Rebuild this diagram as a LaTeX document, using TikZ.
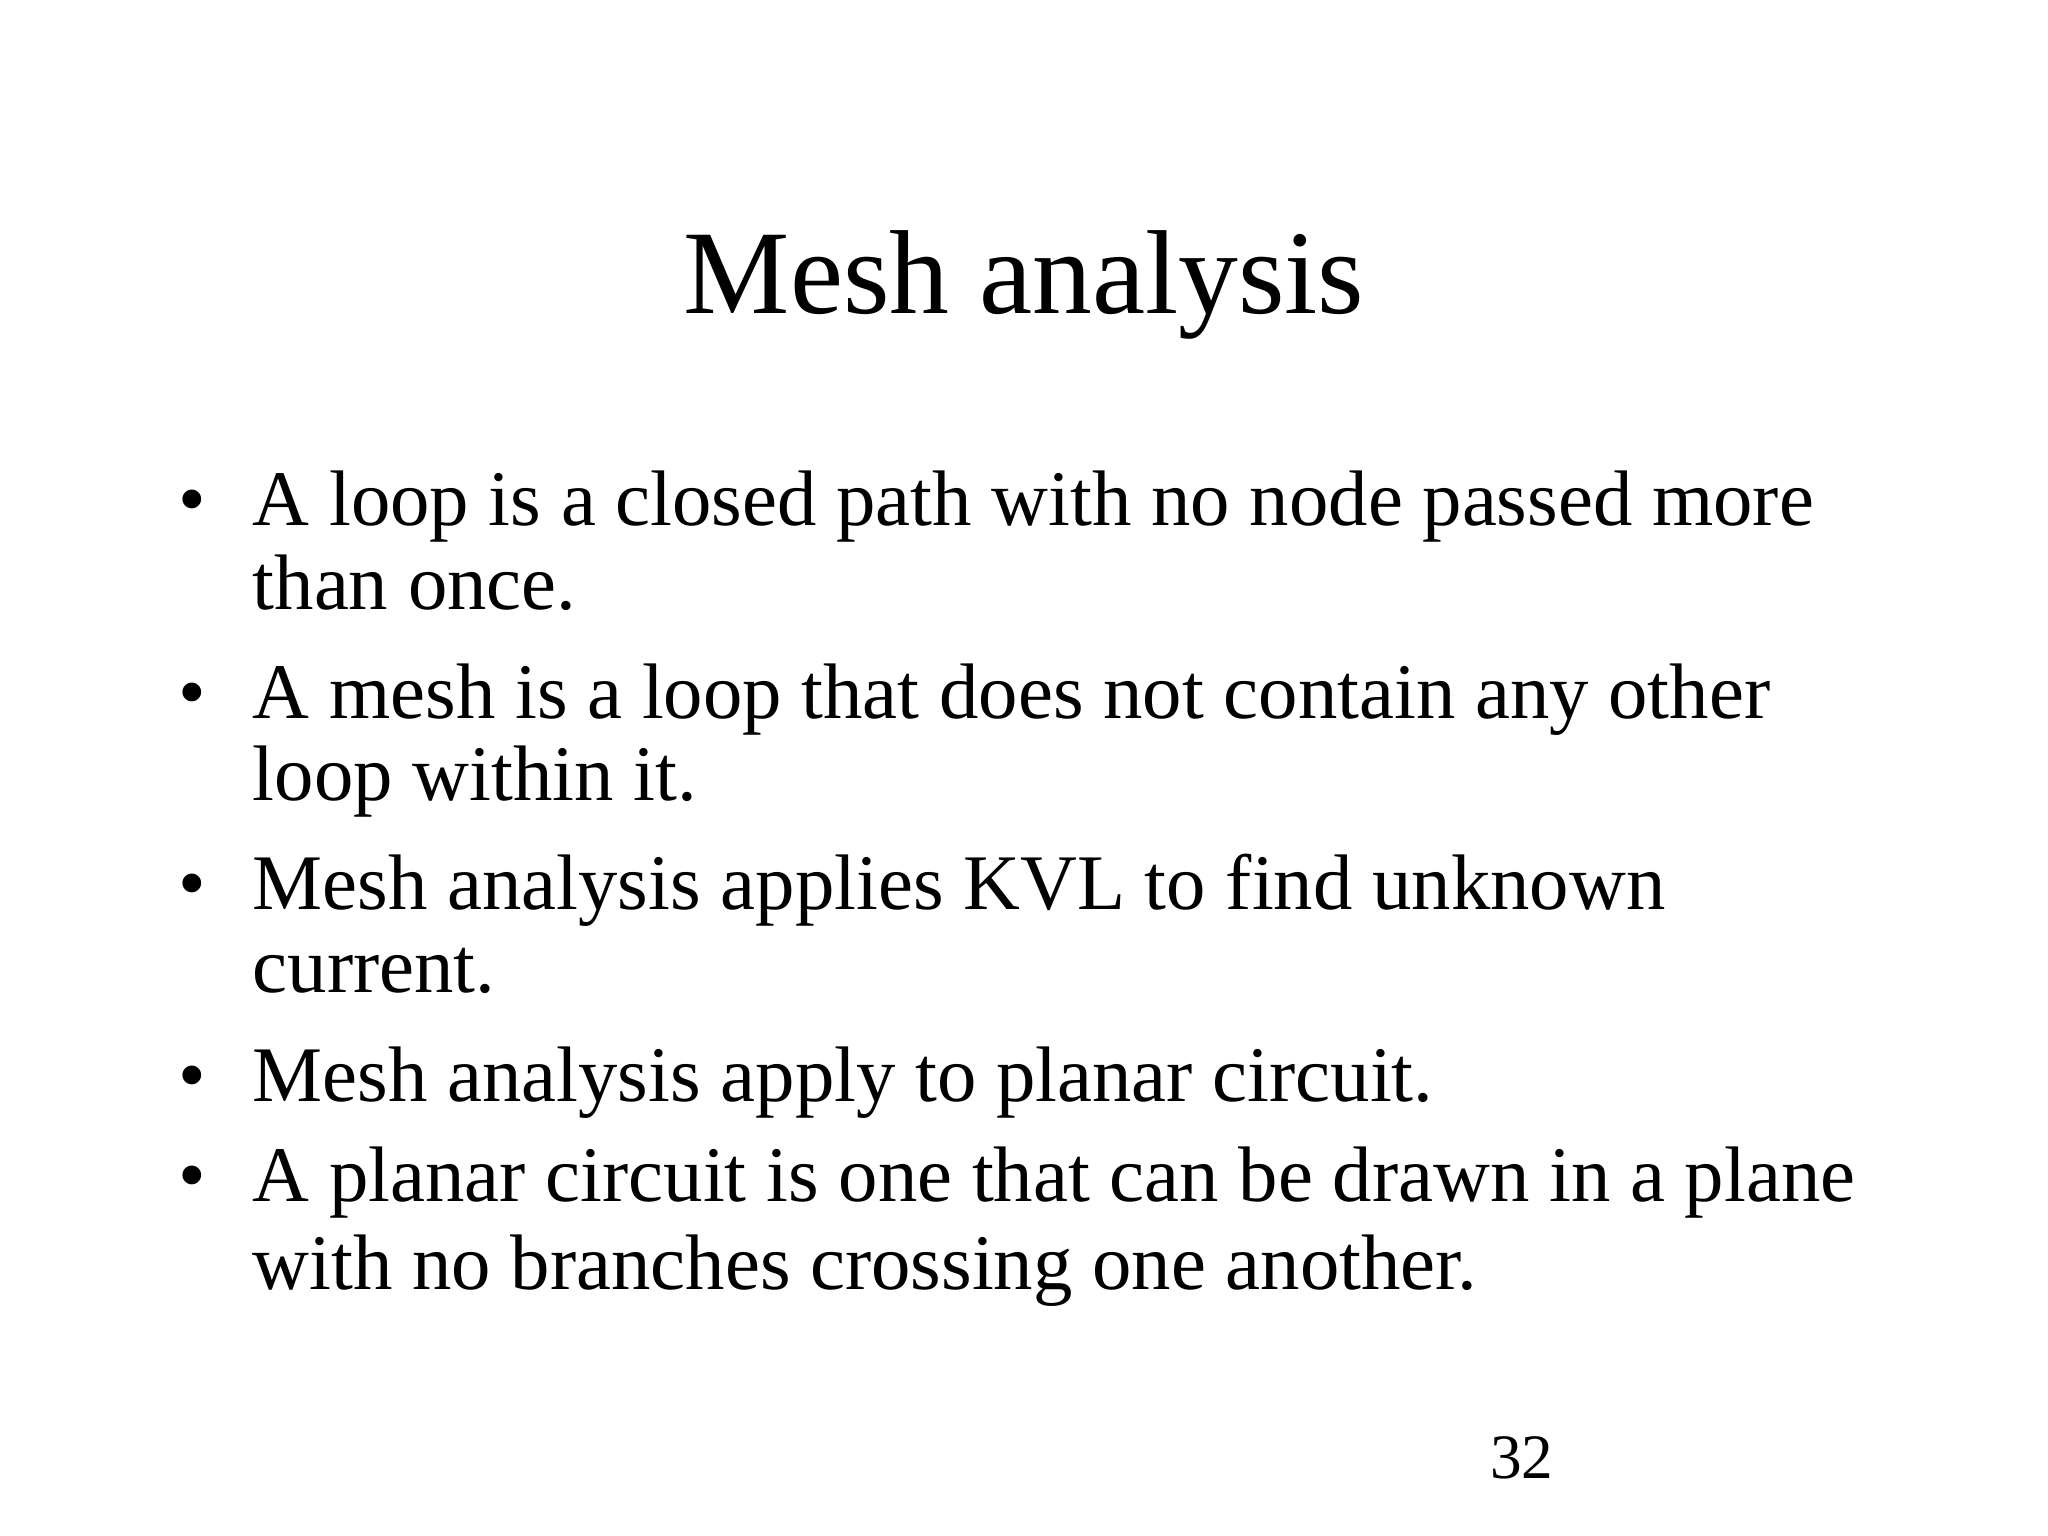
\documentclass[tikz,border=0pt]{standalone}
\usepackage{fontspec}
\setmainfont{Liberation Serif}
\begin{document}
\begin{tikzpicture}[x=0.013061cm,y=-0.013061cm,
  body/.style={anchor=base west,inner sep=0pt,font=\fontsize{22.4}{27}\selectfont},
  bul/.style={anchor=base,inner sep=0pt,font=\fontsize{22.4}{27}\selectfont}]
\useasboundingbox[fill=white] (0,0) rectangle (1568,1176);
\node[anchor=base,inner sep=0pt,font=\fontsize{34}{40}\selectfont] (title) at (784,240) {Mesh analysis};
\foreach \y/\n in {402/b1,550/b2,696/b3,843/b4,920/b5}
  \node[bul] (\n) at (147,\y) {•};
\node[body] (l1) at (193,402) {A loop is a closed path with no node passed more};
\node[body] (l2) at (193,467) {than once.};
\node[body] (l3) at (193,550) {A mesh is a loop that does not contain any other};
\node[body] (l4) at (193,613) {loop within it.};
\node[body] (l5) at (193,696) {Mesh analysis applies KVL to find unknown};
\node[body] (l6) at (193,760) {current.};
\node[body] (l7) at (193,843) {Mesh analysis apply to planar circuit.};
\node[body] (l8) at (193,920) {A planar circuit is one that can be drawn in a plane};
\node[body] (l9) at (193,987) {with no branches crossing one another.};
\node[anchor=base,inner sep=0pt,font=\fontsize{18}{22}\selectfont] (pg) at (1165,1132) {32};
\end{tikzpicture}
\end{document}
